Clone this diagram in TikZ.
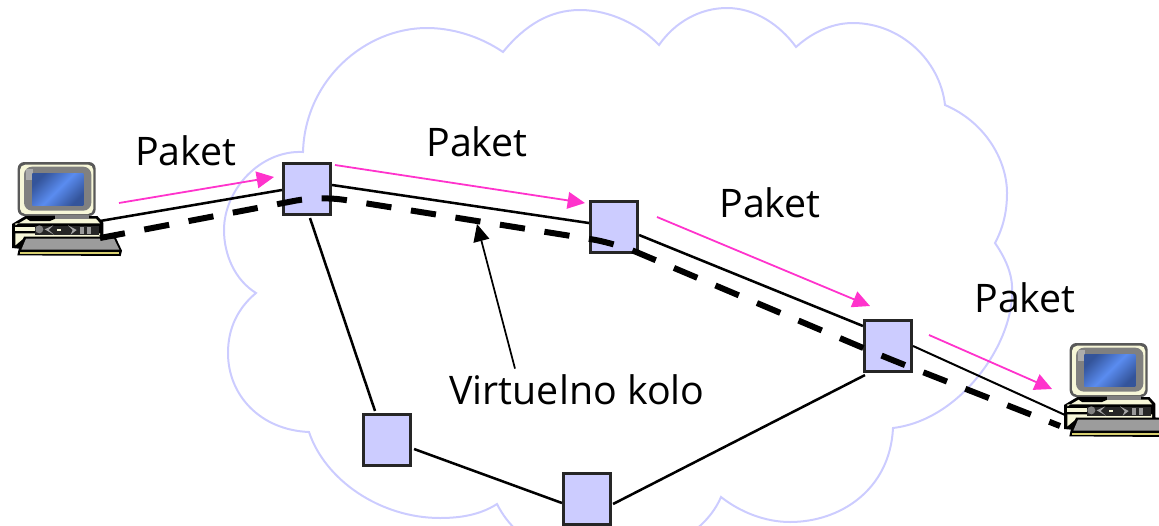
\documentclass[tikz,border=0pt]{standalone}
\usepackage{fontspec}
\setmainfont{Open Sans}
\usetikzlibrary{arrows.meta}
\definecolor{cloudc}{HTML}{CCCCFF}
\definecolor{pinkc}{HTML}{FF33CC}
\definecolor{creamc}{HTML}{F7F7D8}
\definecolor{screenmid}{HTML}{5A8CF0}
\definecolor{screenedge}{HTML}{34549A}
\definecolor{keyc}{HTML}{9C9C9C}
\definecolor{stripc}{HTML}{D8D070}
\tikzset{
  cloudline/.style={draw=cloudc,line width=1.5pt,line join=miter},
  router/.style={draw=black!85,fill=cloudc,line width=2.1pt,minimum width=35.5pt,minimum height=38.5pt,inner sep=0pt},
  link/.style={draw=black,line width=1.9pt},
  vc/.style={draw=black,line width=4.5pt,dash pattern=on 19pt off 14.8pt},
  flow/.style={draw=pinkc,line width=1.35pt,-{Triangle[length=13pt,width=12.5pt,fill=pinkc]}},
  pointer/.style={draw=black,line width=1.3pt,-{Triangle[length=13pt,width=12pt,fill=black]}},
  lab/.style={inner sep=0pt,font=\fontsize{29.5}{32}\selectfont,text=black},
  host/.pic={
    \begin{scope}[x=.25pt,y=-.25pt]
      % system unit
      \fill[black] (36,252) -- (76,228) -- (292,228) -- (310,248) -- (310,290) -- (350,296) -- (100,330) -- (36,324) -- cycle;
      \fill[creamc] (46,256) -- (80,236) -- (288,236) -- (300,250) -- (46,250) -- cycle;
      \fill[creamc] (46,262) -- (104,262) -- (104,274) -- (46,274) -- cycle;
      \fill[creamc] (46,280) -- (300,280) -- (300,292) -- (70,296) -- (46,316) -- cycle;
      \fill[black!85] (104,258) rectangle (298,284);
      \fill[gray] (118,268) circle (12);
      \fill[gray!70] (134,268) -- (160,256) -- (146,270) -- (162,284) -- cycle;
      \fill[creamc] (172,266) rectangle (182,272);
      \fill[gray!70] (204,256) -- (230,270) -- (212,284) -- (218,270) -- cycle;
      \fill[gray!80] (240,262) rectangle (252,282);
      \fill[gray!80] (262,262) rectangle (272,282);
      % keyboard
      \fill[black] (72,290) -- (346,290) -- (366,332) -- (362,348) -- (52,346) -- (56,328) -- cycle;
      \fill[keyc] (78,296) -- (342,296) -- (358,329) -- (64,329) -- cycle;
      \fill[stripc] (60,335) rectangle (356,342);
      % monitor
      \fill[black!65,rounded corners=5] (53,66) rectangle (287,228);
      \fill[creamc,rounded corners=4] (60,74) rectangle (280,222);
      \fill[gray,rounded corners=6] (72,80) rectangle (274,212);
      \fill[gray!65] (78,88) rectangle (98,120);
      \shade[left color=screenedge,right color=screenedge,middle color=screenmid,shading angle=45] (97,100) rectangle (250,197);
      \fill[black] (80,228) -- (166,228) -- (166,236) -- (150,243) -- (90,243) -- (80,236) -- cycle;
      \fill[gray] (166,226) rectangle (266,238);
    \end{scope}
  }
}
\begin{document}
\begin{tikzpicture}[x=.75pt,y=-.75pt]
\useasboundingbox (0,0) rectangle (1159,525);
\clip (0,0) rectangle (1159,525);
% cloud
\draw[cloudline]
  (303,152) .. controls (305,80) and (365,28) .. (427,28)
  .. controls (450,28) and (478,35) .. (503,52)
  .. controls (525,25) and (550,10) .. (580,10)
  .. controls (610,10) and (640,25) .. (659,45)
  .. controls (675,22) and (700,8) .. (727,8)
  .. controls (755,8) and (780,25) .. (796,47)
  .. controls (815,30) and (835,23) .. (853,23)
  .. controls (900,23) and (940,60) .. (945,105)
  .. controls (985,122) and (1007,160) .. (1007,193)
  .. controls (1007,212) and (1003,228) .. (995,243)
  .. controls (1008,262) and (1013,278) .. (1012,293)
  .. controls (1012,345) and (960,420) .. (893,428)
  .. controls (890,490) and (840,522) .. (790,522)
  .. controls (765,522) and (740,512) .. (721,497)
  .. controls (690,570) and (540,590) .. (497,504)
  .. controls (480,515) and (460,518) .. (440,518)
  .. controls (380,518) and (325,480) .. (309,432)
  .. controls (260,430) and (228,395) .. (228,353)
  .. controls (228,328) and (238,308) .. (256,293)
  .. controls (235,280) and (224,255) .. (224,230)
  .. controls (224,190) and (260,150) .. (303,152) -- cycle;
% hosts
\pic at (0,140) {host};
\pic at (1052,321) {host};
\coordinate (h1a) at (100,221);
\coordinate (h1b) at (100,238);
\coordinate (h2a) at (1065,415);
\coordinate (h2b) at (1060,426);
% routers
\node[router] (r1) at (307,189) {};
\node[router] (r2) at (614,227) {};
\node[router] (r3) at (888,346) {};
\node[router] (r4) at (387,440) {};
\node[router] (r5) at (587,499) {};
% links
\draw[link] (h1a) -- ([shift={(0,1)}]r1.west);
\draw[link] ([shift={(0,-4)}]r1.east) -- ([shift={(0,-4)}]r2.west);
\draw[link] ([shift={(0,8)}]r2.east) -- ([shift={(0,-20)}]r3.west);
\draw[link,line width=1.5pt] (r3.east) -- (h2a);
\draw[link] ([shift={(3,2)}]r1.south) -- ([shift={(-12,-2)}]r4.north);
\draw[link] ([shift={(2,9)}]r4.east) -- ([shift={(0,4)}]r5.west);
\draw[link] ([shift={(1,5)}]r5.east) -- ([shift={(2,2)}]r3.south west);
% virtual circuit
\draw[vc,rounded corners=18pt] (h1b) -- (320,196) -- ([shift={(1,16)}]r2.center) -- ([shift={(-1,12)}]r3.center) -- (h2b);
% packets
\coordinate (p1a) at (119,203); \coordinate (p1b) at (274,177);
\coordinate (p2a) at (335,165); \coordinate (p2b) at (585,203);
\coordinate (p3a) at (657,217); \coordinate (p3b) at (870,306);
\coordinate (p4a) at (929,335); \coordinate (p4b) at (1052,389);
\draw[flow] (p1a) -- (p1b);
\draw[flow] (p2a) -- (p2b);
\draw[flow] (p3a) -- (p3b);
\draw[flow] (p4a) -- (p4b);
% labels
\node[lab] (l1) at (186,151) {Paket};
\node[lab] (l2) at (477,142) {Paket};
\node[lab] (l3) at (770,203) {Paket};
\node[lab] (l4) at (1025,298) {Paket};
\node[lab] (vk) at (577,390) {Virtuelno kolo};
\coordinate (vt) at (477,224);
\draw[pointer] ([shift={(-62,-6)}]vk.north) -- (vt);
\end{tikzpicture}
\end{document}
